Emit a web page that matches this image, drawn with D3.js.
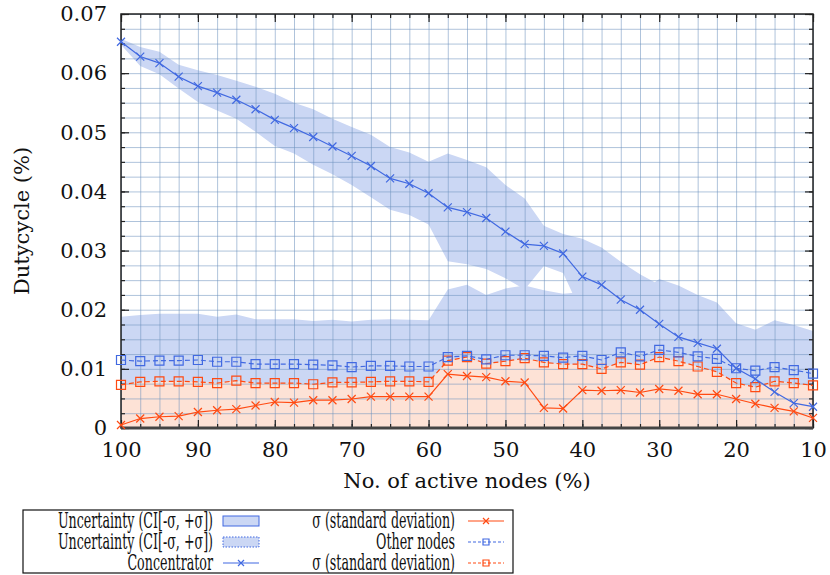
<!DOCTYPE html>
<html>
<head>
<meta charset="utf-8">
<script src="https://cdn.jsdelivr.net/npm/d3@7"></script>
<style>
  body { margin: 0; background: #fff; }
  text { font-family: "DejaVu Serif", serif; fill: #111; }
  .domain { display: none; }
</style>
</head>
<body>
<div id="chart"></div>
<script>
// x positions: share of active nodes (%)
var nodesPct = [100, 97.5, 95, 92.5, 90, 87.5, 85, 82.5, 80, 77.5, 75, 72.5, 70, 67.5, 65, 62.5, 60,
  57.5, 55, 52.5, 50, 47.5, 45, 42.5, 40, 37.5, 35, 32.5, 30, 27.5, 25, 22.5, 20, 17.5, 15, 12.5, 10];

// concentrator dutycycle and its std deviation
var concentrator = [0.0653, 0.0628, 0.0617, 0.0594, 0.0578, 0.0567, 0.0555, 0.0539, 0.0521, 0.0507, 0.0492, 0.0476,
  0.0460, 0.0443, 0.0422, 0.0413, 0.0397, 0.0373, 0.0365, 0.0355, 0.0332, 0.0311, 0.0308, 0.0295, 0.0256, 0.0242,
  0.0217, 0.0200, 0.0176, 0.0154, 0.0144, 0.0134, 0.0101, 0.0083, 0.0061, 0.0042, 0.0036];
var concentratorSd = [0.0005, 0.0016, 0.0019, 0.0020, 0.0027, 0.0030, 0.0032, 0.0038, 0.0044, 0.0043, 0.0047, 0.0047,
  0.0049, 0.0053, 0.0053, 0.0053, 0.0053, 0.0091, 0.0088, 0.0086, 0.0079, 0.0077, 0.0034, 0.0033, 0.0064, 0.0063,
  0.0064, 0.0060, 0.0066, 0.0063, 0.0057, 0.0057, 0.0049, 0.0041, 0.0034, 0.0028, 0.0017];

// other nodes dutycycle and its std deviation
var otherNodes = [0.0115, 0.0113, 0.0114, 0.0114, 0.0115, 0.0112, 0.0112, 0.0108, 0.0108, 0.0108, 0.0107, 0.0106,
  0.0103, 0.0105, 0.0105, 0.0104, 0.0104, 0.0120, 0.0122, 0.0116, 0.0123, 0.0123, 0.0122, 0.0119, 0.0122, 0.0115,
  0.0128, 0.0121, 0.0132, 0.0128, 0.0121, 0.0117, 0.0101, 0.0097, 0.0103, 0.0098, 0.0092];
var otherNodesSd = [0.0073, 0.0078, 0.0079, 0.0079, 0.0078, 0.0076, 0.0080, 0.0076, 0.0076, 0.0076, 0.0074, 0.0077,
  0.0077, 0.0078, 0.0079, 0.0079, 0.0078, 0.0114, 0.0120, 0.0109, 0.0113, 0.0118, 0.0111, 0.0108, 0.0108, 0.0100,
  0.0111, 0.0107, 0.0120, 0.0113, 0.0104, 0.0095, 0.0076, 0.0069, 0.0079, 0.0076, 0.0072];

var xTicks = [100, 90, 80, 70, 60, 50, 40, 30, 20, 10];
var yTicks = [0, 0.01, 0.02, 0.03, 0.04, 0.05, 0.06, 0.07];

var legendLeft = ["Uncertainty (CI[-σ, +σ])", "Uncertainty (CI[-σ, +σ])", "Concentrator"];
var legendRight = ["σ (standard deviation)", "Other nodes", "σ (standard deviation)"];

var svgWidth = 830;
var svgHeight = 575;
var margin = { top: 14, left: 121, right: 17, bottom: 147 };
var chartWidth = svgWidth - margin.left - margin.right;
var chartHeight = svgHeight - margin.top - margin.bottom;

var blue = "#4169e1";
var orange = "#ff4a12";
var bandFill = "#cbd7f4";
var sdFill = "#fde2d6";

var svg = d3.select("#chart").append("svg")
  .attr("width", svgWidth)
  .attr("height", svgHeight);

var chartGroup = svg.append("g")
  .attr("transform", `translate(${margin.left}, ${margin.top})`);

var xScale = d3.scaleLinear().domain([100, 10]).range([0, chartWidth]);
var yScale = d3.scaleLinear().domain([0, 0.07]).range([chartHeight, 0]);

var idx = d3.range(nodesPct.length);

// uncertainty bands (mean +/- sigma)
var band = function(mean, sd) {
  return d3.area()
    .x(i => xScale(nodesPct[i]))
    .y0(i => yScale(mean[i] - sd[i]))
    .y1(i => yScale(mean[i] + sd[i]));
};
chartGroup.append("path").datum(idx).attr("d", band(concentrator, concentratorSd)).attr("fill", bandFill);
chartGroup.append("path").datum(idx).attr("d", band(otherNodes, otherNodesSd)).attr("fill", bandFill);

// std deviation fills
var under = function(vals) {
  return d3.area().x(i => xScale(nodesPct[i])).y0(yScale(0)).y1(i => yScale(vals[i]));
};
chartGroup.append("path").datum(idx).attr("d", under(otherNodesSd)).attr("fill", sdFill);
chartGroup.append("path").datum(idx).attr("d", under(concentratorSd)).attr("fill", sdFill);

// grid
var minorX = d3.range(10, 100.1, 2.5);
var minorY = d3.range(0, 0.0701, 0.0025);
chartGroup.append("g")
  .attr("class", "grid")
  .call(d3.axisBottom(xScale).tickValues(minorX).tickSize(chartHeight).tickFormat(""))
  .selectAll("line").attr("stroke", "rgba(110,145,190,0.55)");
chartGroup.append("g")
  .attr("class", "grid")
  .call(d3.axisLeft(yScale).tickValues(minorY).tickSize(-chartWidth).tickFormat(""))
  .selectAll("line").attr("stroke", "rgba(110,145,190,0.55)");

// axes with inward ticks
chartGroup.append("g")
  .attr("transform", `translate(0, ${chartHeight})`)
  .call(d3.axisBottom(xScale).tickValues(minorX).tickSize(-4).tickFormat(""));
chartGroup.append("g")
  .call(d3.axisTop(xScale).tickValues(minorX).tickSize(-4).tickFormat(""));
chartGroup.append("g")
  .call(d3.axisLeft(yScale).tickValues(minorY).tickSize(-4).tickFormat(""));
chartGroup.append("g")
  .attr("transform", `translate(${chartWidth}, 0)`)
  .call(d3.axisRight(yScale).tickValues(minorY).tickSize(-4).tickFormat(""));

var xAxis = chartGroup.append("g")
  .attr("transform", `translate(0, ${chartHeight})`)
  .call(d3.axisBottom(xScale).tickValues(xTicks).tickSize(-8).tickPadding(14).tickFormat(d3.format("d")));
chartGroup.append("g")
  .call(d3.axisTop(xScale).tickValues(xTicks).tickSize(-8).tickFormat(""));
var yAxis = chartGroup.append("g")
  .call(d3.axisLeft(yScale).tickValues(yTicks).tickSize(-8).tickPadding(14)
    .tickFormat(d => d === 0 ? "0" : d.toFixed(2)));
chartGroup.append("g")
  .attr("transform", `translate(${chartWidth}, 0)`)
  .call(d3.axisRight(yScale).tickValues(yTicks).tickSize(-8).tickFormat(""));

chartGroup.selectAll(".tick line").filter(function() { return !this.parentNode.parentNode.classList.contains("grid"); })
  .attr("stroke", "#222").attr("stroke-width", 1.2);
xAxis.selectAll("text").attr("font-size", 21).attr("font-family", "DejaVu Serif").attr("fill", "#111");
yAxis.selectAll("text").attr("font-size", 21).attr("font-family", "DejaVu Serif").attr("fill", "#111");

// frame
chartGroup.append("rect")
  .attr("width", chartWidth).attr("height", chartHeight)
  .attr("fill", "none").attr("stroke", "#222").attr("stroke-width", 1.5);
chartGroup.append("line")
  .attr("x1", 0).attr("x2", chartWidth).attr("y1", chartHeight).attr("y2", chartHeight)
  .attr("stroke", "#444").attr("stroke-width", 3);

// lines and markers
var lineOf = vals => d3.line().x(i => xScale(nodesPct[i])).y(i => yScale(vals[i]));

function drawSeries(vals, color, dashed, marker) {
  chartGroup.append("path").datum(idx)
    .attr("d", lineOf(vals))
    .attr("fill", "none")
    .attr("stroke", color)
    .attr("stroke-width", 1.2)
    .attr("stroke-dasharray", dashed ? "5,3" : null);
  var pts = chartGroup.append("g").selectAll("path").data(idx).enter().append("path")
    .attr("transform", i => `translate(${xScale(nodesPct[i])}, ${yScale(vals[i])})`)
    .attr("fill", "none").attr("stroke", color).attr("stroke-width", 1.2);
  if (marker === "x") pts.attr("d", "M-4,-4L4,4M-4,4L4,-4");
  else pts.attr("d", "M-4.5,-4.5H4.5V4.5H-4.5Z");
}
drawSeries(concentratorSd, orange, false, "x");
drawSeries(otherNodesSd, orange, true, "sq");
drawSeries(otherNodes, blue, true, "sq");
drawSeries(concentrator, blue, false, "x");

// axis titles
svg.append("text")
  .attr("transform", `translate(29, ${margin.top + chartHeight / 2}) rotate(-90)`)
  .attr("text-anchor", "middle")
  .attr("font-size", 21)
  .text("Dutycycle (%)");
svg.append("text")
  .attr("x", margin.left + chartWidth / 2)
  .attr("y", 488)
  .attr("text-anchor", "middle")
  .attr("font-size", 21)
  .text("No. of active nodes (%)");

// legend
var legend = svg.append("g");
legend.append("rect")
  .attr("x", 23).attr("y", 510).attr("width", 490).attr("height", 63)
  .attr("fill", "#fff").attr("stroke", "#111").attr("stroke-width", 1.2);

var rowY = [521, 542, 563];

legendLeft.forEach(function(t, i) {
  legend.append("text")
    .attr("transform", `translate(213, ${rowY[i] + 7}) scale(0.575, 1)`)
    .attr("text-anchor", "end").attr("font-size", 22).text(t);
});
legendRight.forEach(function(t, i) {
  legend.append("text")
    .attr("transform", `translate(455, ${rowY[i] + 7}) scale(0.575, 1)`)
    .attr("text-anchor", "end").attr("font-size", 22).text(t);
});

legend.append("rect").attr("x", 223).attr("y", rowY[0] - 5).attr("width", 36).attr("height", 10)
  .attr("fill", bandFill).attr("stroke", blue).attr("stroke-width", 1);
legend.append("rect").attr("x", 223).attr("y", rowY[1] - 5).attr("width", 36).attr("height", 10)
  .attr("fill", bandFill).attr("stroke", blue).attr("stroke-width", 1).attr("stroke-dasharray", "1.5,1.5");

function legendLine(x1, x2, y, color, dashed, marker) {
  legend.append("line").attr("x1", x1).attr("x2", x2).attr("y1", y).attr("y2", y)
    .attr("stroke", color).attr("stroke-width", 1.2).attr("stroke-dasharray", dashed ? "3,2" : null);
  var cx = (x1 + x2) / 2;
  legend.append("path")
    .attr("d", marker === "x" ? "M-3,-3L3,3M-3,3L3,-3" : "M-3,-3H3V3H-3Z")
    .attr("transform", `translate(${cx}, ${y})`)
    .attr("fill", "none").attr("stroke", color).attr("stroke-width", 1.2);
}
legendLine(223, 259, rowY[2], blue, false, "x");
legendLine(468, 504, rowY[0], orange, false, "x");
legendLine(468, 504, rowY[1], blue, true, "sq");
legendLine(468, 504, rowY[2], orange, true, "sq");
</script>
</body>
</html>
